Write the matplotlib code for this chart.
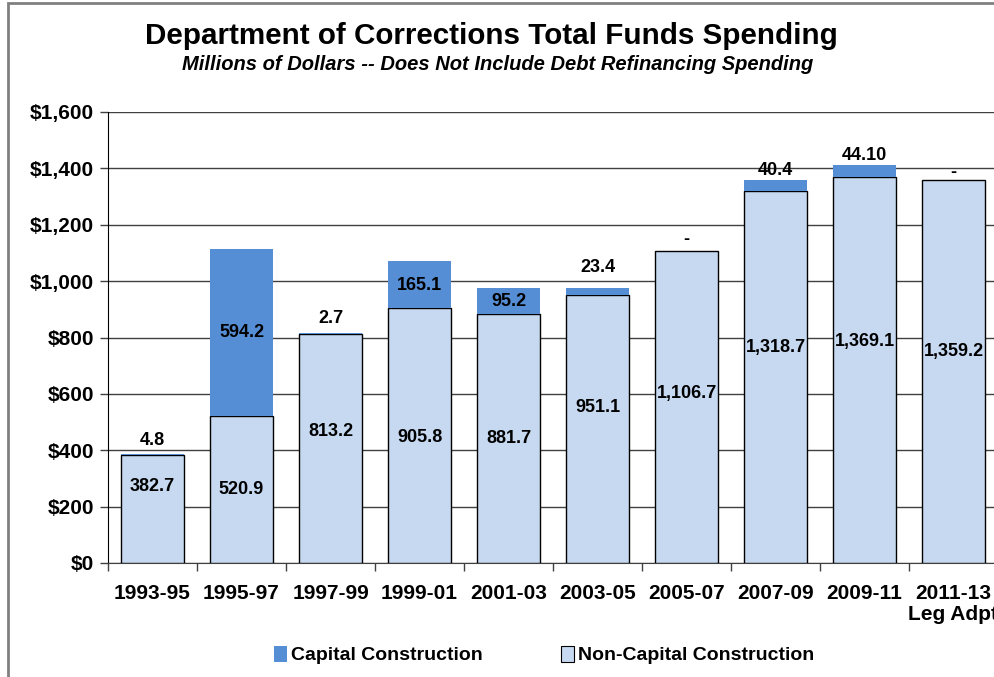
import matplotlib
matplotlib.use("Agg")
import matplotlib.pyplot as plt
from matplotlib.patches import Rectangle, Patch
import numpy as np

plt.rcParams.update({"font.family": "Liberation Sans", "font.weight": "bold"})

periods = ["1993-95", "1995-97", "1997-99", "1999-01", "2001-03", "2003-05",
           "2005-07", "2007-09", "2009-11", "2011-13\nLeg Adpt"]
non_capital = [382.7, 520.9, 813.2, 905.8, 881.7, 951.1, 1106.7, 1318.7, 1369.1, 1359.2]
capital = [4.8, 594.2, 2.7, 165.1, 95.2, 23.4, 0.0, 40.4, 44.10, 0.0]
capital_text = ["4.8", "594.2", "2.7", "165.1", "95.2", "23.4", "-", "40.4", "44.10", "-"]

# where the data labels sit (y in $M)
non_cap_label_y = [270, 259, 465, 447, 440, 550, 600, 766, 787, 752]
cap_label_y = [436, 816, 866, 986, 926, 1050, 1149, 1394, 1444, 1387]

CAP = "#558ED5"
NONCAP = "#C6D9F1"

fig = plt.figure(figsize=(9.94, 6.77), dpi=100)
ax = fig.add_axes([108/994, 114/677, 890/994, 451/677])

x = np.arange(len(periods))
ax.bar(x, non_capital, width=0.71, color=NONCAP, edgecolor="black", linewidth=1, zorder=3)
ax.bar(x, capital, width=0.71, bottom=non_capital, color=CAP, edgecolor="none", zorder=3)

for i in range(len(periods)):
    ax.text(x[i], non_cap_label_y[i], f"{non_capital[i]:,.1f}", ha="center", va="center",
            fontsize=13, fontweight="bold", zorder=5)
    ax.text(x[i], cap_label_y[i], capital_text[i], ha="center", va="center",
            fontsize=13, fontweight="bold", zorder=5)

ax.set_xlim(-0.5, len(periods) - 0.5)
ax.set_ylim(0, 1600)
ax.set_yticks(range(0, 1601, 200))
ax.set_yticklabels([f"${v:,}" for v in range(0, 1601, 200)], fontsize=15, fontweight="bold")
ax.yaxis.grid(True, color="#404040", linewidth=1)
ax.set_axisbelow(True)

ax.set_xticks(x)
ax.set_xticklabels(periods, fontsize=15, fontweight="bold", linespacing=1.15)
ax.set_xticks(np.arange(len(periods) + 1) - 0.5, minor=True)
ax.tick_params(axis="x", which="major", length=0, pad=15)
ax.tick_params(axis="x", which="minor", length=6, width=1, color="#404040")
ax.tick_params(axis="y", length=6, width=1, color="#404040", pad=4)

for s in ["top", "right"]:
    ax.spines[s].set_visible(False)
ax.spines["left"].set_color("black")
ax.spines["bottom"].set_color("#404040")

fig.text(491/994, 1 - 36/677, "Department of Corrections Total Funds Spending",
         ha="center", va="center", fontsize=21.3, fontweight="bold")
fig.text(498/994, 1 - 64/677, "Millions of Dollars -- Does Not Include Debt Refinancing Spending",
         ha="center", va="center", fontsize=14.5, fontweight="bold", style="italic")

handles = [Patch(facecolor=CAP, edgecolor="none", label="Capital Construction"),
           Patch(facecolor=NONCAP, edgecolor="black", linewidth=0.8, label="Non-Capital Construction")]
fig.legend(handles=handles, loc="center", bbox_to_anchor=(544/994, 1 - 655/677), ncol=2,
           frameon=False, prop={"size": 14, "weight": "bold"}, handlelength=0.7,
           handleheight=0.9, handletextpad=0.2, columnspacing=4.0)

fig.patches.append(Rectangle((8/994, -0.1), 1.2, 1.1 - 3/677, transform=fig.transFigure,
                             fill=False, edgecolor="#808080", linewidth=2))

fig.savefig("out.png", dpi=100)
